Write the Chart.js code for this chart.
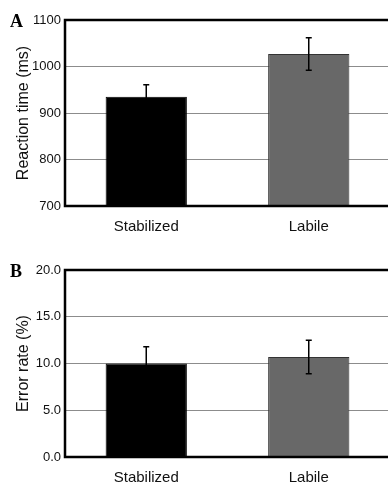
<!DOCTYPE html>
<html>
<head>
<meta charset="utf-8">
<script src="https://cdn.jsdelivr.net/npm/chart.js@4"></script>
<style>
  html, body { margin: 0; padding: 0; background: #fff; overflow: hidden; }
  canvas { display: block; }
</style>
</head>
<body>
<canvas id="chartA" width="400" height="240"></canvas>
<canvas id="chartB" width="400" height="243"></canvas>
<script>
var categories = ["Stabilized", "Labile"];
var barColors = ["#000000", "#686868"];
var barBorders = ["#000000", "#333333"];

// panel A: reaction time
var rtMeans = [935, 1027];
var rtErrors = [26, 35];
var rtMin = 700, rtMax = 1100, rtStep = 100;

// panel B: error rate
var erMeans = [10.0, 10.7];
var erErrors = [1.8, 1.8];
var erMin = 0, erMax = 20, erStep = 5;

var errorBars = {
    id: 'errorBars',
    afterDatasetsDraw: function(chart, args, opts) {
        var ctx = chart.ctx;
        var y = chart.scales.y;
        var meta = chart.getDatasetMeta(0);
        ctx.save();
        ctx.strokeStyle = '#000';
        ctx.lineWidth = 1.5;
        meta.data.forEach(function(bar, i) {
            var m = opts.means[i], e = opts.errors[i];
            var top = y.getPixelForValue(m + e);
            var bot = y.getPixelForValue(m - e);
            ctx.beginPath();
            ctx.moveTo(bar.x, top); ctx.lineTo(bar.x, bot);
            ctx.moveTo(bar.x - 3, top); ctx.lineTo(bar.x + 3, top);
            ctx.moveTo(bar.x - 3, bot); ctx.lineTo(bar.x + 3, bot);
            ctx.stroke();
        });
        ctx.restore();
    }
};

var frame = {
    id: 'frame',
    afterDraw: function(chart, args, opts) {
        var a = chart.chartArea;
        var ctx = chart.ctx;
        ctx.save();
        ctx.strokeStyle = '#000';
        ctx.lineWidth = 2.5;
        ctx.beginPath();
        ctx.moveTo(a.right + 5, a.top);
        ctx.lineTo(a.left, a.top);
        ctx.lineTo(a.left, a.bottom);
        ctx.lineTo(a.right + 5, a.bottom);
        ctx.stroke();
        ctx.fillStyle = '#000';
        ctx.font = 'bold 18px "Liberation Serif", "DejaVu Serif", serif';
        ctx.textBaseline = 'alphabetic';
        ctx.fillText(opts.letter, 10, a.top + 7);
        ctx.restore();
    }
};

function makeChart(id, means, errors, min, max, step, decimals, title, letter, topPad, xHeight, xPad) {
    return new Chart(document.getElementById(id), {
        type: 'bar',
        data: {
            labels: categories,
            datasets: [{
                data: means,
                backgroundColor: barColors,
                borderColor: barBorders,
                borderWidth: 1,
                categoryPercentage: 1,
                barPercentage: 0.5
            }]
        },
        options: {
            responsive: false,
            animation: false,
            devicePixelRatio: 1,
            layout: { padding: { top: topPad, right: 10, left: 0, bottom: 0 } },
            plugins: {
                legend: { display: false },
                tooltip: { enabled: false },
                errorBars: { means: means, errors: errors },
                frame: { letter: letter }
            },
            scales: {
                x: {
                    grid: { display: false, drawTicks: false },
                    border: { display: false },
                    ticks: {
                        color: '#111',
                        padding: xPad,
                        font: { family: '"Liberation Sans", Arial, sans-serif', size: 15 }
                    },
                    afterFit: function(s) { s.height = xHeight; }
                },
                y: {
                    min: min,
                    max: max,
                    border: { display: false },
                    grid: { color: '#8c8c8c', lineWidth: 1, drawTicks: false },
                    ticks: {
                        stepSize: step,
                        padding: 4,
                        color: '#111',
                        font: { family: '"Liberation Sans", Arial, sans-serif', size: 13 },
                        callback: function(v) { return v.toFixed(decimals); }
                    },
                    title: {
                        display: true,
                        text: title,
                        color: '#111',
                        padding: { top: 14, bottom: 0 },
                        font: { family: '"Liberation Sans", Arial, sans-serif', size: 16 }
                    },
                    afterFit: function(s) { s.width = 65; }
                }
            }
        },
        plugins: [errorBars, frame]
    });
}

makeChart('chartA', rtMeans, rtErrors, rtMin, rtMax, rtStep, 0, 'Reaction time (ms)', 'A', 20, 34, 12);
makeChart('chartB', erMeans, erErrors, erMin, erMax, erStep, 1, 'Error rate (%)', 'B', 30, 26, 12);
</script>
</body>
</html>
